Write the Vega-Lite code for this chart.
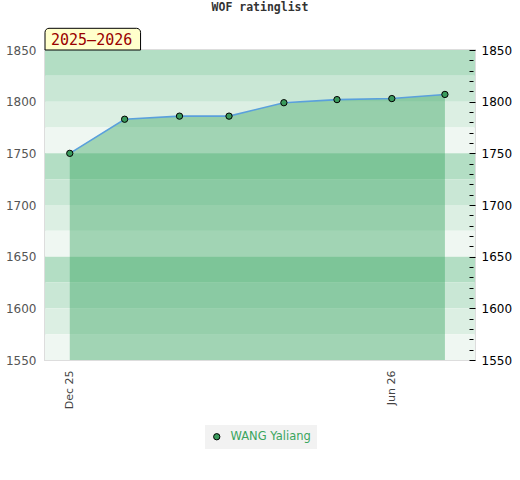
{
  "$schema": "https://vega.github.io/schema/vega-lite/v6.json",
  "autosize": {"type": "none"},
  "padding": {"left": 45, "top": 50, "right": 45, "bottom": 120},
  "width": 430,
  "height": 310,
  "title": {
    "text": "WOF ratinglist",
    "font": "DejaVu Sans Mono",
    "fontSize": 11.5,
    "fontWeight": "bold",
    "color": "#333333",
    "anchor": "middle",
    "offset": 14
  },
  "config": {
    "view": {"stroke": "#dddddd", "strokeWidth": 2},
    "axis": {"grid": false, "labelFont": "DejaVu Sans", "labelFontSize": 12}
  },
  "datasets": {
    "ratings": [
      {"list": "2025-12-01", "rating": 1750, "player": "WANG Yaliang"},
      {"list": "2026-01-01", "rating": 1783, "player": "WANG Yaliang"},
      {"list": "2026-02-01", "rating": 1786, "player": "WANG Yaliang"},
      {"list": "2026-03-01", "rating": 1786, "player": "WANG Yaliang"},
      {"list": "2026-04-01", "rating": 1799, "player": "WANG Yaliang"},
      {"list": "2026-05-01", "rating": 1802, "player": "WANG Yaliang"},
      {"list": "2026-06-01", "rating": 1803, "player": "WANG Yaliang"},
      {"list": "2026-07-01", "rating": 1807, "player": "WANG Yaliang"}
    ],
    "bands": [
      {"lo": 1825, "hi": 1850, "tier": 1},
      {"lo": 1800, "hi": 1825, "tier": 2},
      {"lo": 1775, "hi": 1800, "tier": 3},
      {"lo": 1750, "hi": 1775, "tier": 4},
      {"lo": 1725, "hi": 1750, "tier": 1},
      {"lo": 1700, "hi": 1725, "tier": 2},
      {"lo": 1675, "hi": 1700, "tier": 3},
      {"lo": 1650, "hi": 1675, "tier": 4},
      {"lo": 1625, "hi": 1650, "tier": 1},
      {"lo": 1600, "hi": 1625, "tier": 2},
      {"lo": 1575, "hi": 1600, "tier": 3},
      {"lo": 1550, "hi": 1575, "tier": 4}
    ],
    "season": [
      {"start": "2025-11-17", "end": "2026-01-10", "top": 1871, "mid": 1860, "label": "2025–2026"}
    ]
  },
  "layer": [
    {
      "data": {"name": "bands"},
      "mark": {"type": "rect"},
      "encoding": {
        "y": {
          "field": "lo",
          "type": "quantitative",
          "scale": {"domain": [1550, 1850], "nice": false, "zero": false},
          "axis": {
            "orient": "left",
            "title": null,
            "values": [1550, 1600, 1650, 1700, 1750, 1800, 1850],
            "format": "d",
            "ticks": false,
            "domain": false,
            "labelColor": "#555555",
            "labelPadding": 9
          }
        },
        "y2": {"field": "hi"},
        "color": {
          "field": "tier",
          "type": "ordinal",
          "scale": {"domain": [1, 2, 3, 4], "range": ["#b3dec4", "#c9e7d5", "#dcefe3", "#eff7f2"]},
          "legend": null
        }
      }
    },
    {
      "data": {"name": "ratings"},
      "mark": {"type": "area", "color": "#2ea057", "fillOpacity": 0.4},
      "encoding": {
        "x": {
          "field": "list",
          "type": "temporal",
          "scale": {"type": "utc", "domain": ["2025-11-17", "2026-07-18"]},
          "axis": {
            "title": null,
            "values": ["2025-12-01", "2026-06-01"],
            "format": "%b %y",
            "labelAngle": 270,
            "labelColor": "#444444",
            "labelFontSize": 11,
            "labelPadding": 10,
            "ticks": false,
            "domain": false
          }
        },
        "y": {"field": "rating", "type": "quantitative", "axis": null},
        "y2": {"datum": 1550}
      }
    },
    {
      "data": {"name": "ratings"},
      "transform": [{"filter": "datum.list == '2025-12-01' || datum.list == '2026-07-01'"}],
      "mark": {"type": "rule", "color": "#2ea057", "strokeWidth": 1},
      "encoding": {
        "x": {"field": "list", "type": "temporal"},
        "y": {"field": "rating", "type": "quantitative", "axis": null},
        "y2": {"datum": 1550}
      }
    },
    {
      "data": {"name": "ratings"},
      "mark": {"type": "line", "color": "#5aa0dc", "strokeWidth": 1.6},
      "encoding": {
        "x": {"field": "list", "type": "temporal"},
        "y": {"field": "rating", "type": "quantitative", "axis": null}
      }
    },
    {
      "data": {"name": "ratings"},
      "mark": {"type": "point", "shape": "circle", "filled": true, "size": 40, "stroke": "black", "strokeWidth": 1, "opacity": 1},
      "encoding": {
        "x": {"field": "list", "type": "temporal"},
        "y": {
          "field": "rating",
          "type": "quantitative",
          "axis": {
            "orient": "right",
            "title": null,
            "values": [1550, 1560, 1570, 1580, 1590, 1600, 1610, 1620, 1630, 1640, 1650, 1660, 1670, 1680, 1690, 1700, 1710, 1720, 1730, 1740, 1750, 1760, 1770, 1780, 1790, 1800, 1810, 1820, 1830, 1840, 1850],
            "labelExpr": "datum.value % 50 === 0 ? format(datum.value, 'd') : ''",
            "offset": -6,
            "zindex": 1,
            "domain": false,
            "ticks": true,
            "tickColor": "black",
            "tickSize": {"condition": {"test": "datum.value % 50 === 0", "value": 6}, "value": 4},
            "tickWidth": 1,
            "labelColor": "black",
            "labelPadding": 6
          }
        },
        "color": {
          "field": "player",
          "type": "nominal",
          "scale": {"range": ["#3a9a5c"]},
          "legend": {
            "title": null,
            "orient": "none",
            "legendX": 160,
            "legendY": 375,
            "padding": 6,
            "fillColor": "#f2f2f2",
            "labelColor": "#3aa55d",
            "labelFont": "DejaVu Sans",
            "labelFontSize": 11.5,
            "labelOffset": 8,
            "symbolType": "circle",
            "symbolSize": 40,
            "symbolStrokeColor": "black",
            "symbolStrokeWidth": 1,
            "symbolFillColor": "#3a9a5c"
          }
        }
      }
    },
    {
      "data": {"name": "season"},
      "mark": {"type": "rect", "fill": "#ffffcc", "stroke": "black", "strokeWidth": 1, "cornerRadiusTopLeft": 4, "cornerRadiusTopRight": 4},
      "encoding": {
        "x": {"field": "start", "type": "temporal"},
        "x2": {"field": "end"},
        "y": {"field": "top", "type": "quantitative", "axis": null},
        "y2": {"datum": 1850}
      }
    },
    {
      "data": {"name": "season"},
      "mark": {"type": "text", "font": "DejaVu Sans Mono", "fontSize": 15, "color": "#990000", "align": "left", "baseline": "middle", "dx": 6},
      "encoding": {
        "x": {"field": "start", "type": "temporal"},
        "y": {"field": "mid", "type": "quantitative", "axis": null},
        "text": {"field": "label"}
      }
    }
  ],
  "resolve": {"scale": {"color": "independent"}, "axis": {"y": "independent"}}
}
